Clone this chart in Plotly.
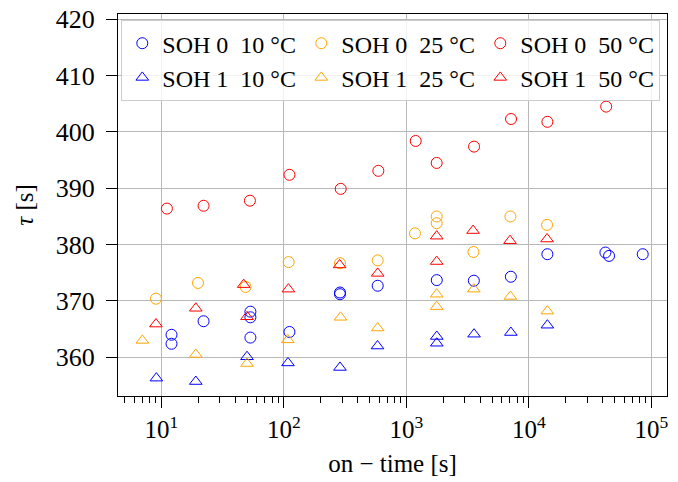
import plotly.graph_objects as go

# ---- data ----
soh0_10_t = [12.1, 12.1, 22.1, 53.3, 53.3, 53.3, 111, 287, 287, 583, 1770, 3550, 7120, 14150, 42100, 45100, 84900]
soh0_10_tau = [364.0, 362.4, 366.4, 368.1, 367.1, 363.5, 364.5, 371.5, 371.2, 372.7, 373.7, 373.6, 374.3, 378.3, 378.6, 378.0, 378.3]

soh0_25_t = [9.03, 19.9, 48.7, 109.4, 287, 583, 1175, 1767, 1767, 3525, 7060, 14060]
soh0_25_tau = [370.4, 373.2, 372.5, 376.9, 376.7, 377.2, 382.0, 385.0, 383.8, 378.7, 385.0, 383.5]

soh0_50_t = [11.1, 22.1, 52.8, 111, 291, 590, 1191, 1767, 3565, 7145, 14150, 42700]
soh0_50_tau = [386.4, 386.9, 387.8, 392.4, 389.9, 393.1, 398.4, 394.5, 397.4, 402.3, 401.8, 404.5]

soh1_10_t = [9.1, 19.1, 50, 108, 287, 581, 1770, 1770, 3565, 7120, 14150]
soh1_10_tau = [356.3, 355.7, 360.1, 359.0, 358.2, 362.0, 363.7, 362.5, 364.1, 364.4, 365.7]

soh1_25_t = [7.0, 19.1, 50, 107.6, 290, 583, 1767, 1767, 3550, 7060, 14150]
soh1_25_tau = [363.0, 360.5, 358.9, 363.1, 367.1, 365.2, 371.2, 369.0, 372.1, 370.8, 368.2]

soh1_50_t = [9.03, 19.1, 47, 50, 108.8, 285, 583, 1767, 1767, 3500, 7010, 14060]
soh1_50_tau = [365.9, 368.7, 372.9, 367.2, 372.1, 376.4, 374.9, 381.5, 377.0, 382.5, 380.7, 381.0]

x_tick_vals = [10, 100, 1000, 10000, 100000]
x_tick_text = ["10<sup>1</sup>", "10<sup>2</sup>", "10<sup>3</sup>", "10<sup>4</sup>", "10<sup>5</sup>"]
y_tick_vals = [360, 370, 380, 390, 400, 410, 420]

BLUE = "#0000FF"
ORANGE = "#FFA500"
RED = "#FF0000"
FONT = "Liberation Serif"

series = [
    ("SOH 0  10 °C", soh0_10_t, soh0_10_tau, "circle-open", BLUE),
    ("SOH 0  25 °C", soh0_25_t, soh0_25_tau, "circle-open", ORANGE),
    ("SOH 0  50 °C", soh0_50_t, soh0_50_tau, "circle-open", RED),
    ("SOH 1  10 °C", soh1_10_t, soh1_10_tau, "triangle-up-open", BLUE),
    ("SOH 1  25 °C", soh1_25_t, soh1_25_tau, "triangle-up-open", ORANGE),
    ("SOH 1  50 °C", soh1_50_t, soh1_50_tau, "triangle-up-open", RED),
]

fig = go.Figure()
for name, xs, ys, sym, col in series:
    fig.add_trace(go.Scatter(
        x=xs, y=ys, mode="markers", name=name,
        marker=dict(symbol=sym, size=11, color=col, line=dict(width=1, color=col)),
    ))

minor_vals = [m * 10 ** k for k in range(0, 6) for m in range(2, 10)]

fig.update_layout(
    width=678, height=482,
    margin=dict(l=118, r=11, t=14, b=86, autoexpand=False),
    paper_bgcolor="white", plot_bgcolor="white",
    font=dict(family=FONT, size=24, color="black"),
    legend=dict(
        orientation="h", x=0.006, y=0.984, xanchor="left", yanchor="top",
        bgcolor="rgba(255,255,255,0.8)", bordercolor="#cccccc", borderwidth=1,
        font=dict(family=FONT, size=24), entrywidth=134, entrywidthmode="pixels",
        itemwidth=30, tracegroupgap=0,
    ),
    showlegend=True,
)
fig.update_xaxes(
    type="log", range=[0.646, 5.127], automargin=False,
    tickmode="array", tickvals=x_tick_vals, ticktext=x_tick_text,
    ticks="outside", ticklen=11, tickwidth=1, tickcolor="black",
    showgrid=True, gridcolor="#b8b8b8", gridwidth=1,
    showline=True, linecolor="black", linewidth=1.2, mirror=True,
    tickfont=dict(family=FONT, size=25),
    minor=dict(tickmode="array", tickvals=minor_vals, ticks="outside", ticklen=6,
               tickwidth=1, tickcolor="black", showgrid=False),
    title=dict(text="on − time [s]", font=dict(family=FONT, size=25), standoff=12),
    zeroline=False,
)
fig.update_yaxes(
    range=[353.13, 420.94], automargin=False,
    tickmode="array", tickvals=y_tick_vals,
    ticks="outside", ticklen=11, tickwidth=1, tickcolor="black",
    showgrid=True, gridcolor="#b8b8b8", gridwidth=1,
    showline=True, linecolor="black", linewidth=1.2, mirror=True,
    tickfont=dict(family=FONT, size=26), ticklabelstandoff=6,
    title=dict(text="<i>τ</i> [s]", font=dict(family=FONT, size=25), standoff=14),
    zeroline=False,
)

fig.write_html(
    "out.html",
    config={"displayModeBar": False},
    post_script="document.body.style.margin='0';document.body.style.padding='0';",
)
